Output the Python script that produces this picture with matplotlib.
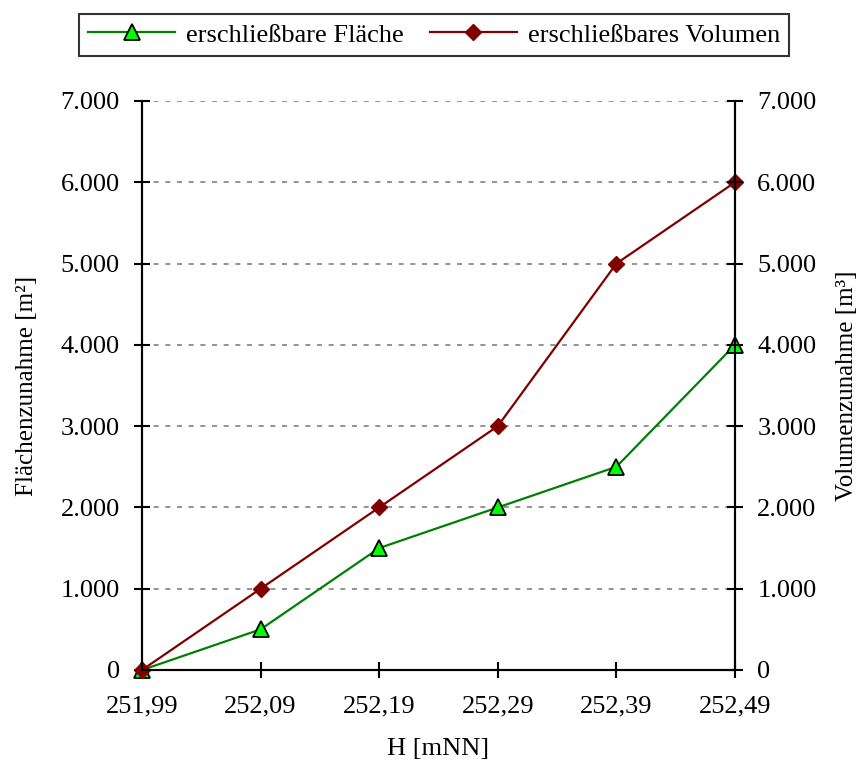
import matplotlib
matplotlib.use("Agg")
import matplotlib.pyplot as plt
from matplotlib.ticker import FuncFormatter

plt.rcParams['font.family'] = ['Liberation Serif', 'DejaVu Serif']

categories = ["251,99", "252,09", "252,19", "252,29", "252,39", "252,49"]
flaeche = [0, 500, 1500, 2000, 2500, 4000]
volumen = [0, 1000, 2000, 3000, 5000, 6000]
yticks = [0, 1000, 2000, 3000, 4000, 5000, 6000, 7000]

def fmt(v, pos):
    return f"{int(v):,}".replace(",", ".")

fig = plt.figure(figsize=(8.58, 7.61), dpi=100)
ax = fig.add_axes([142/858, 1-670/761, (735-142)/858, (670-101)/761])
ax2 = ax.twinx()

x = list(range(len(categories)))
l1, = ax.plot(x, flaeche, color='#008000', lw=1.6, marker='^', markersize=11,
              markerfacecolor='#00FF00', markeredgecolor='black', markeredgewidth=1.3,
              label='erschließbare Fläche', zorder=5, clip_on=False)
l2, = ax.plot(x, volumen, color='#800000', lw=1.6, marker='D', markersize=8,
              markerfacecolor='#800000', markeredgecolor='#800000',
              label='erschließbares Volumen', zorder=6, clip_on=False)

for a in (ax, ax2):
    a.set_ylim(0, 7000)
    a.set_yticks(yticks)
    a.yaxis.set_major_formatter(FuncFormatter(fmt))
    a.spines['top'].set_visible(False)
    a.tick_params(axis='both', direction='inout', length=12, width=1.5, labelsize=19, pad=10)
    for s in ('left', 'right', 'bottom'):
        a.spines[s].set_linewidth(1.5)
ax.set_xlim(0, 5)
ax.set_xticks(x)
ax.set_xticklabels(categories)
ax.tick_params(axis='x', pad=12)

for yv in yticks[1:]:
    ax.axhline(yv, color='#808080', lw=1.2, ls=(0, (3, 4)), zorder=1)

ax.set_xlabel('H [mNN]', fontsize=19, labelpad=15)
ax.set_ylabel('Flächenzunahme [m²]', fontsize=18, labelpad=16)
ax2.set_ylabel('Volumenzunahme [m³]', fontsize=18, labelpad=14)

leg = fig.legend(handles=[l1, l2], loc='center', bbox_to_anchor=(434/858, 1-35/761),
                 ncol=2, fontsize=19, frameon=True, fancybox=False, edgecolor='black',
                 handlelength=3.3, handletextpad=0.4, columnspacing=1.0, borderpad=0.35)
leg.get_frame().set_linewidth(1.5)

fig.savefig('out.png', dpi=100)
